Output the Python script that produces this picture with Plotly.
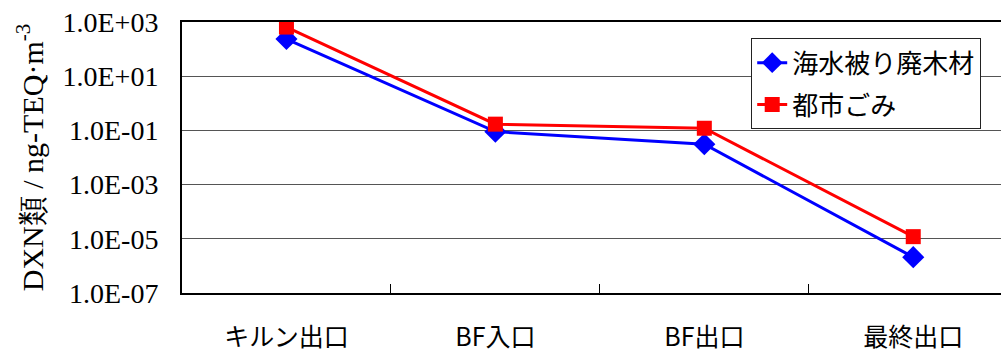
import plotly.graph_objects as go

# sampling points along the treatment line
categories = ["キルン出口", "BF入口", "BF出口", "最終出口"]

# DXN concentrations [ng-TEQ/m3]
seawater_wood = [235, 0.09, 0.031, 2.1e-6]
municipal_waste = [650, 0.17, 0.12, 1.2e-5]

y_tick_vals = [1e3, 1e1, 1e-1, 1e-3, 1e-5, 1e-7]
y_tick_text = ["1.0E+03", "1.0E+01", "1.0E-01", "1.0E-03", "1.0E-05", "1.0E-07"]

fig = go.Figure()
fig.add_trace(go.Scatter(
    x=categories, y=seawater_wood, name="海水被り廃木材",
    mode="lines+markers", legendgroup="a",
    line=dict(color="#0000ff", width=3),
    marker=dict(symbol="diamond", size=17, color="#0000ff"),
))
fig.add_trace(go.Scatter(
    x=categories, y=municipal_waste, name="都市ごみ",
    mode="lines+markers", legendgroup="b",
    line=dict(color="#ff0000", width=3),
    marker=dict(symbol="square", size=15, color="#ff0000"),
))

fig.update_layout(
    width=1001, height=352,
    margin=dict(l=182, r=0, t=22, b=59),
    paper_bgcolor="white", plot_bgcolor="white",
    showlegend=True,
    legend=dict(
        x=0.695, y=0.94, xanchor="left", yanchor="top",
        bgcolor="white", bordercolor="#222", borderwidth=1,
        font=dict(family="Noto Sans CJK JP", size=26, color="black"),
        traceorder="grouped", tracegroupgap=5,
    ),
)
fig.update_xaxes(
    type="category", range=[-0.5, 3.42],
    showline=True, linecolor="black", linewidth=2, mirror=True,
    showgrid=False, ticks="inside", tickson="boundaries", ticklen=9,
    tickcolor="black", tickwidth=1,
    tickfont=dict(family="Noto Sans CJK JP", size=25, color="black"),
    ticklabelstandoff=21,
)
fig.update_yaxes(
    type="log", range=[-7, 3],
    tickvals=y_tick_vals, ticktext=y_tick_text,
    showline=True, linecolor="black", linewidth=2,
    showgrid=True, gridcolor="#555", gridwidth=1,
    ticks="", ticklabelstandoff=16,
    tickfont=dict(family="Liberation Serif", size=28, color="black"),
    title=dict(text="DXN類 / ng-TEQ·m<sup>-3</sup>", standoff=10,
               font=dict(family="Liberation Serif", size=30, color="black")),
    zeroline=False,
)

fig.write_html("out.html")
